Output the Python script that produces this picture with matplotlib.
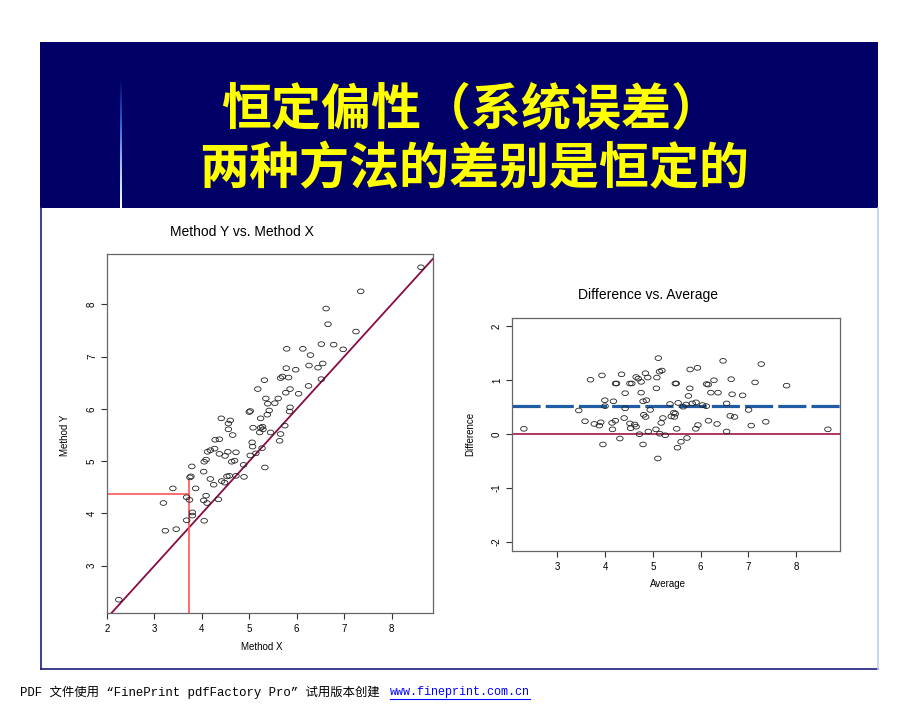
import numpy as np
import matplotlib
matplotlib.use("Agg")
import matplotlib.pyplot as plt
from matplotlib.path import Path
from matplotlib.transforms import Affine2D

plt.rcParams['font.family'] = ['Liberation Sans', 'DejaVu Sans']
plt.rcParams['axes.unicode_minus'] = False

method_x = [2.25, 3.19, 3.23, 3.39, 3.46, 3.68, 3.68, 3.74, 3.75, 3.77,
            3.79, 3.80, 3.80, 3.87, 4.04, 4.04, 4.05, 4.05, 4.09, 4.09,
            4.11, 4.12, 4.18, 4.18, 4.25, 4.27, 4.28, 4.35, 4.37, 4.37,
            4.41, 4.42, 4.48, 4.49, 4.53, 4.55, 4.56, 4.56, 4.58, 4.60,
            4.63, 4.65, 4.69, 4.72, 4.72, 4.88, 4.89, 5.00, 5.02, 5.02,
            5.06, 5.07, 5.08, 5.14, 5.18, 5.22, 5.24, 5.24, 5.27, 5.28,
            5.29, 5.32, 5.33, 5.35, 5.38, 5.39, 5.42, 5.45, 5.54, 5.61,
            5.64, 5.66, 5.66, 5.70, 5.75, 5.77, 5.78, 5.79, 5.83, 5.85,
            5.86, 5.86, 5.98, 6.04, 6.13, 6.25, 6.26, 6.29, 6.45, 6.52,
            6.52, 6.55, 6.62, 6.66, 6.78, 6.98, 7.25, 7.35, 8.62]
method_y = [2.35, 4.20, 3.67, 4.48, 3.70, 4.31, 3.87, 4.26, 4.69, 4.71,
            4.90, 4.02, 3.96, 4.48, 4.80, 4.25, 3.86, 4.99, 5.03, 4.34,
            4.20, 5.18, 5.21, 4.66, 4.55, 5.24, 5.41, 4.27, 5.42, 5.14,
            5.82, 4.62, 4.59, 5.10, 4.71, 5.18, 5.72, 5.61, 4.72, 5.78,
            4.99, 5.50, 5.01, 5.17, 4.72, 4.93, 4.70, 5.94, 5.96, 5.11,
            5.36, 5.28, 5.64, 5.15, 6.38, 5.55, 5.82, 5.64, 5.25, 5.66,
            5.61, 6.55, 4.88, 6.20, 5.89, 6.10, 5.97, 5.55, 6.11, 6.20,
            5.39, 5.52, 6.59, 6.62, 5.68, 6.31, 6.78, 7.15, 6.60, 5.95,
            6.03, 6.38, 6.75, 6.29, 7.15, 6.44, 6.83, 7.03, 6.79, 7.24,
            6.57, 6.87, 7.92, 7.62, 7.23, 7.14, 7.48, 8.25, 8.71]

# reference guide (red lines in the scatter plot)
ref_x = 3.72
ref_y = 4.38
ref_vline_top = 4.66

title_lines = ["恒定偏性（系统误差）", "两种方法的差别是恒定的"]
footer_text = "PDF 文件使用 “FinePrint pdfFactory Pro” 试用版本创建"
footer_link = "www.fineprint.com.cn"

x = np.array(method_x)
y = np.array(method_y)
avg = (x + y) / 2
diff = y - x

W, H = 920, 711
fig = plt.figure(figsize=(W / 100, H / 100), dpi=100)
fig.patch.set_facecolor("white")

# slide background: banner + frame, in pixel coordinates
bg = fig.add_axes([0, 0, 1, 1], zorder=0)
bg.set_xlim(0, W)
bg.set_ylim(H, 0)
bg.axis("off")
bg.add_patch(plt.Rectangle((40, 42), 838, 166, color="#000066", lw=0))
grad = np.linspace(0, 1, 100).reshape(-1, 1)
bg.imshow(grad, extent=[120.5, 122.5, 208, 78], aspect="auto",
          cmap=matplotlib.colors.LinearSegmentedColormap.from_list(
              "g", ["#000066", "#2a5fd0", "#9fc0ff", "#ffffff"]), zorder=2)
bg.plot([41, 41], [208, 669], color="#1c1c80", lw=1.2)
bg.plot([41, 878], [669, 669], color="#1c1c80", lw=1.2)
bg.plot([878, 878], [208, 669], color="#c0d0ea", lw=1.2)

cjk = ['Noto Sans CJK SC', 'DejaVu Sans']
bg.text(471, 110, title_lines[0], color="#ffff00", fontsize=36,
        fontweight="bold", family=cjk, ha="center", va="center")
bg.text(474, 170, title_lines[1], color="#ffff00", fontsize=36,
        fontweight="bold", family=cjk, ha="center", va="center")

mono = ['Liberation Mono', 'Noto Sans CJK SC']
bg.text(20, 692, footer_text, fontsize=8.9, family=mono, va="center",
        ha="left", color="black")
bg.text(390, 692, footer_link, fontsize=8.5, family=mono, va="center",
        ha="left", color="#0000ff")
bg.plot([390, 530], [699, 699], color="#0000ff", lw=0.8)

# squashed open circle marker, like the slide image
ell = Path.unit_circle().transformed(Affine2D().scale(1.0, 0.72))


def style_axes(ax, xt, yt):
    for s in ax.spines.values():
        s.set_color("#666666")
        s.set_linewidth(0.9)
    ax.set_xticks(xt)
    ax.set_yticks(yt)
    ax.tick_params(axis="both", length=4, width=0.8, color="#333333",
                   labelsize=7, direction="out")
    ax.tick_params(axis="x", pad=4)
    ax.tick_params(axis="y", pad=3)
    for lab in ax.get_yticklabels():
        lab.set_rotation(90)
        lab.set_va("center")


def r_lim(v):
    lo, hi = v.min(), v.max()
    pad = 0.04 * (hi - lo)
    return lo - pad, hi + pad


# left: Method Y vs. Method X
ax1 = fig.add_axes([0.116, 0.1378, 0.3547, 0.505])
ax1.scatter(x, y, marker=ell, s=22, facecolors="none", edgecolors="#222222",
            linewidths=0.6, zorder=3)
xl, yl = r_lim(x), r_lim(y)
ax1.set_xlim(xl)
ax1.set_ylim(yl)
ax1.axline((0, 0), slope=1, color="#8a0a45", lw=1.3, zorder=2)
ax1.vlines(ref_x, yl[0], ref_vline_top, color="#ff5555", lw=1.2, zorder=2)
ax1.hlines(ref_y, xl[0], ref_x, color="#ff5555", lw=1.2, zorder=2)
style_axes(ax1, range(2, 9), range(3, 9))
fig.text(241.7 / W, 1 - 231.7 / H, "Method Y vs. Method X", fontsize=10,
         ha="center", va="center")
fig.text(261.7 / W, 1 - 647.3 / H, "Method X", fontsize=7, ha="center",
         va="center")
fig.text(65 / W, 1 - 435 / H, "Method Y", fontsize=7, ha="center",
         va="center", rotation=90)

# right: Difference vs. Average
ax2 = fig.add_axes([0.5562, 0.2254, 0.3569, 0.3278])
ax2.scatter(avg, diff, marker=ell, s=22, facecolors="none",
            edgecolors="#222222", linewidths=0.6, zorder=3)
ax2.set_xlim(r_lim(avg))
ax2.set_ylim(-2.16, 2.16)
ax2.axhline(0, color="#990038", lw=1.1, zorder=2)
ax2.axhline(diff.mean(), color="#1f5ca3", lw=2.3, dashes=(8.8, 1.6),
            zorder=2)
style_axes(ax2, range(3, 9), range(-2, 3))
fig.text(648 / W, 1 - 295 / H, "Difference vs. Average", fontsize=10,
         ha="center", va="center")
fig.text(667.7 / W, 1 - 584 / H, "Average", fontsize=7, ha="center",
         va="center")
fig.text(470.7 / W, 1 - 434 / H, "Difference", fontsize=7, ha="center",
         va="center", rotation=90)

fig.savefig("out.png", dpi=100)
